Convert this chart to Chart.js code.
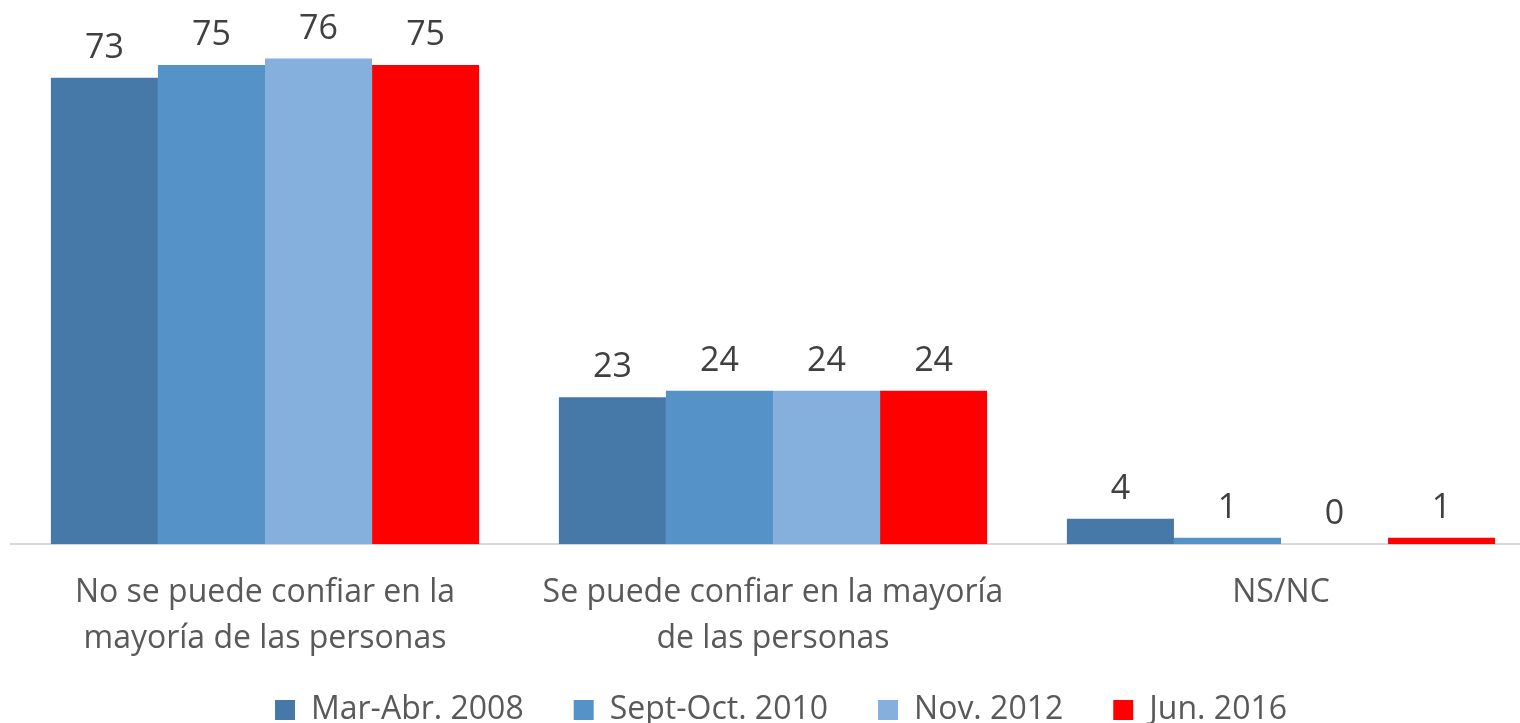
<!DOCTYPE html>
<html>
<head>
<meta charset="utf-8">
<script src="https://cdn.jsdelivr.net/npm/chart.js"></script>
<style>
  html, body { margin: 0; padding: 0; background: #fff; overflow: hidden; }
  #wrap { width: 1536px; height: 723px; }
</style>
</head>
<body>
<div id="wrap"><canvas id="trust-chart"></canvas></div>
<script>
  // categories and series
  const categories = [
    ['No se puede confiar en la', 'mayoría de las personas'],
    ['Se puede confiar en la mayoría', 'de las personas'],
    'NS/NC'
  ];
  const seriesNames = ['Mar-Abr. 2008', 'Sept-Oct. 2010', 'Nov. 2012', 'Jun. 2016'];
  const mar2008 = [73, 23, 4];
  const sept2010 = [75, 24, 1];
  const nov2012 = [76, 24, 0];
  const jun2016 = [75, 24, 1];
  const colors = ['#4779a8', '#5592c8', '#85afdc', '#ff0000'];

  // draw the value over each bar
  const valueLabels = {
    id: 'valueLabels',
    afterDatasetsDraw(chart) {
      const ctx = chart.ctx;
      ctx.save();
      ctx.font = '34px "Open Sans"';
      ctx.fillStyle = '#404040';
      ctx.textAlign = 'center';
      ctx.textBaseline = 'alphabetic';
      chart.data.datasets.forEach((ds, i) => {
        chart.getDatasetMeta(i).data.forEach((bar, j) => {
          ctx.fillText(ds.data[j], bar.x, bar.y - 20);
        });
      });
      ctx.restore();
    }
  };

  // pull the legend back up a bit, so the axis can sit lower
  const legendLift = {
    id: 'legendLift',
    afterLayout(chart) {
      chart.legend.top -= 20;
      chart.legend.bottom -= 20;
      chart.legend.left += 8;
      chart.legend.right += 8;
    }
  };

  const ctxT = document.getElementById('trust-chart');
  const trustChart = new Chart(ctxT, {
    type: 'bar',
    data: {
      labels: categories,
      datasets: [mar2008, sept2010, nov2012, jun2016].map((d, i) => ({
        label: seriesNames[i],
        data: d,
        backgroundColor: colors[i],
        borderWidth: 0,
        barPercentage: 1,
        categoryPercentage: 0.843
      }))
    },
    options: {
      responsive: true,
      maintainAspectRatio: false,
      animation: false,
      layout: { padding: { left: 11, right: 1, top: 33, bottom: -33 } },
      plugins: {
        tooltip: { enabled: false },
        legend: {
          position: 'bottom',
          labels: {
            font: { family: '"Open Sans"', size: 32 },
            color: '#595959',
            boxWidth: 20,
            boxHeight: 20,
            padding: 50
          }
        }
      },
      scales: {
        x: {
          grid: { display: false, drawTicks: false },
          border: { color: '#d9d9d9', width: 2 },
          ticks: {
            font: { family: '"Open Sans"', size: 32, lineHeight: 1.45 },
            color: '#595959',
            padding: 25,
            maxRotation: 0,
            autoSkip: false
          },
          afterFit(scale) { scale.height -= 23; }
        },
        y: {
          display: false,
          min: 0,
          max: 80
        }
      }
    },
    plugins: [valueLabels, legendLift]
  });
</script>
</body>
</html>
